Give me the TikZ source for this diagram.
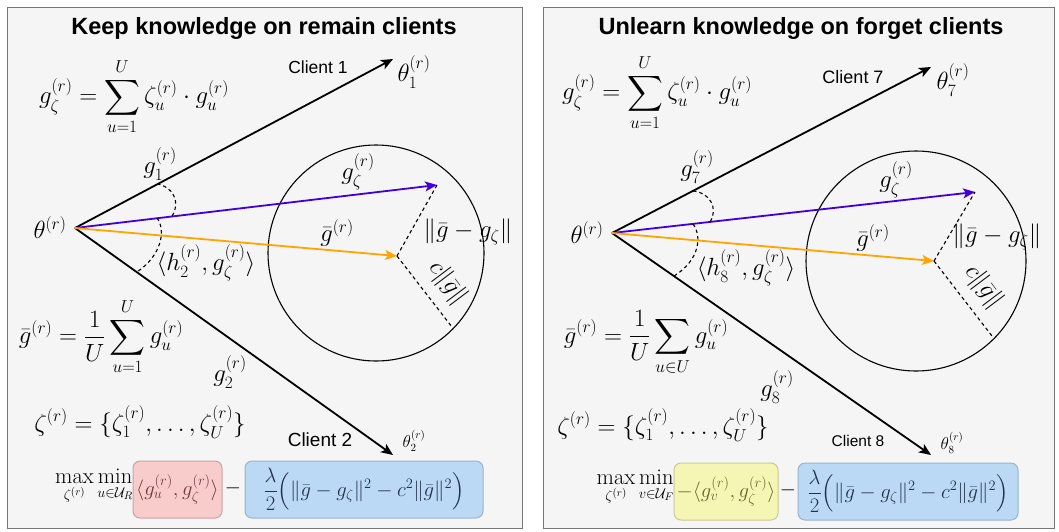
\documentclass[tikz,border=0pt]{standalone}
\usepackage{amsmath}
\usepackage{fontspec}
\newfontfamily\arialfont{Liberation Sans}
\usetikzlibrary{arrows.meta}
\definecolor{panelfill}{HTML}{F5F5F5}
\definecolor{panelline}{HTML}{777777}
\definecolor{bluearrow}{HTML}{3F00DB}
\definecolor{orangearrow}{HTML}{FFA500}
\definecolor{redfill}{HTML}{F8C8C6}
\definecolor{redline}{HTML}{C9A3A1}
\definecolor{yellowfill}{HTML}{F7F7AD}
\definecolor{yellowline}{HTML}{C8C89A}
\definecolor{bluefill}{HTML}{B5D6F5}
\definecolor{blueline}{HTML}{9AB4CC}
\definecolor{redtext}{HTML}{6E3A3A}
\definecolor{yellowtext}{HTML}{66662F}
\definecolor{bluetext}{HTML}{22324A}
\tikzset{
  panel/.style={draw=panelline, fill=panelfill, line width=1pt},
  title/.style={font=\arialfont\bfseries\fontsize{23.5}{28}\selectfont},
  client/.style={font=\arialfont\fontsize{17.5}{20}\selectfont},
  bigmath/.style={font=\fontsize{23}{27}\selectfont, inner sep=0pt},
  lab/.style={font=\fontsize{25}{29}\selectfont, inner sep=0pt},
  smalllab/.style={font=\fontsize{16}{19}\selectfont, inner sep=0pt},
  vec/.style={line width=1.8pt, -{Stealth[length=12pt,width=10pt,inset=3pt]}},
  ring/.style={line width=1.1pt},
  dashln/.style={line width=1.1pt, dash pattern=on 3.5pt off 3pt},
  boxbase/.style={rounded corners=7pt, line width=1pt, fill opacity=0.9, text opacity=1, inner sep=0pt, font=\fontsize{22}{26}\selectfont},
  redbox/.style={boxbase, draw=redline, fill=redfill, text=redtext},
  yellowbox/.style={boxbase, draw=yellowline, fill=yellowfill, text=yellowtext},
  bluebox/.style={boxbase, draw=blueline, fill=bluefill, text=bluetext},
  eqtext/.style={font=\fontsize{22.5}{26}\selectfont, inner sep=0pt}
}
\begin{document}
\begin{tikzpicture}[x=1pt,y=-1pt]
\useasboundingbox (0,0) rectangle (1059,531);
\fill[white] (0,0) rectangle (1059,531);
% ---------------- LEFT PANEL ----------------
\draw[panel] (7,7) rectangle (522,528);
\node[title] (t1) at (264,28) {Keep knowledge on remain clients};

\coordinate (o1) at (75,228);
\coordinate (c1) at (393,59);
\coordinate (c2) at (393,455);
\coordinate (bz1) at (437,185);
\coordinate (bo1) at (397,256);
\coordinate (rim1) at (452,327);

\draw[ring] (376,253) circle[radius=108];
\draw[vec] (o1) -- (c1);
\draw[vec] (o1) -- (c2);
\draw[vec, bluearrow] (o1) -- (bz1);
\draw[vec, orangearrow] (o1) -- (bo1);
\draw[dashln] (bo1) -- (bz1);
\draw[dashln] (bo1) -- (rim1);
\draw[dashln] (157,184) .. controls (173,186) and (181,203) .. (172,216);
\draw[dashln] (157,218) .. controls (166,230) and (162,255) .. (137,272);

\node[lab] (th1) at (50,228) {$\theta^{(r)}$};
\node[client] (cl1) at (318,67) {Client 1};
\node[lab] (th11) at (414,72) {$\theta_1^{(r)}$};
\node[client, font=\arialfont\fontsize{19}{22}\selectfont] (cl2) at (320,440) {Client 2};
\node[smalllab] (th12) at (414,441) {$\theta_2^{(r)}$};
\node[lab] (g11) at (160,164) {$g_1^{(r)}$};
\node[lab] (h2) at (206,263) {$\langle h_2^{(r)}, g_\zeta^{(r)}\rangle$};
\node[lab] (g21) at (230,372) {$g_2^{(r)}$};
\node[lab] (gz1) at (358,172) {$g_\zeta^{(r)}$};
\node[lab] (gb1) at (337,233) {$\bar g^{(r)}$};
\node[lab] (d1) at (468,232) {$\|\bar g - g_\zeta\|$};
\node[lab, rotate=-53] (cn1) at (448,283) {$c\|\bar g\|$};

\node[bigmath] (f11) at (134,97) {$\displaystyle g_\zeta^{(r)} = \sum_{u=1}^{U} \zeta_u^{(r)}\cdot g_u^{(r)}$};
\node[bigmath] (f12) at (101,337) {$\displaystyle \bar g^{(r)} = \frac{1}{U}\sum_{u=1}^{U} g_u^{(r)}$};
\node[bigmath] (f13) at (140,422) {$\displaystyle \zeta^{(r)} = \{\zeta_1^{(r)},\ldots,\zeta_U^{(r)}\}$};

\node[eqtext, anchor=east] (mm1) at (133,487) {$\displaystyle\max_{\zeta^{(r)}}\min_{u\in\mathcal{U}_R}$};
\node[redbox, minimum width=89pt, minimum height=57pt] (rb1) at (177.5,489.5) {$\langle g_u^{(r)}, g_\zeta^{(r)}\rangle$};
\node[eqtext] (mi1) at (233,488) {$-$};
\node[bluebox, minimum width=238pt, minimum height=57pt] (bb1) at (364,489.5) {$\displaystyle\frac{\lambda}{2}\Big(\|\bar g - g_\zeta\|^2 - c^2\|\bar g\|^2\Big)$};

% ---------------- RIGHT PANEL ----------------
\draw[panel] (543,7) rectangle (1054,528);
\node[title] (t2) at (801,28) {Unlearn knowledge on forget clients};

\coordinate (o2) at (612,233);
\coordinate (c7) at (931,67);
\coordinate (c8) at (931,455);
\coordinate (bz2) at (975,192);
\coordinate (bo2) at (934,261);
\coordinate (rim2) at (992,336);

\draw[ring] (916,261) circle[radius=110];
\draw[vec] (o2) -- (c7);
\draw[vec] (o2) -- (c8);
\draw[vec, bluearrow] (o2) -- (bz2);
\draw[vec, orangearrow] (o2) -- (bo2);
\draw[dashln] (bo2) -- (bz2);
\draw[dashln] (bo2) -- (rim2);
\draw[dashln] (693,191) .. controls (709,192) and (719,208) .. (710,222);
\draw[dashln] (693,224) .. controls (702,236) and (700,260) .. (674,276);

\node[lab] (th2) at (587,233) {$\theta^{(r)}$};
\node[client, font=\arialfont\fontsize{18}{21}\selectfont] (cl7) at (853,77) {Client 7};
\node[lab] (th27) at (953,80) {$\theta_7^{(r)}$};
\node[client, font=\arialfont\fontsize{15.5}{18}\selectfont] (cl8) at (858,441) {Client 8};
\node[smalllab] (th28) at (952,443) {$\theta_8^{(r)}$};
\node[lab] (g27) at (697,167) {$g_7^{(r)}$};
\node[lab] (h8) at (746,268) {$\langle h_8^{(r)}, g_\zeta^{(r)}\rangle$};
\node[lab] (g28) at (777,387) {$g_8^{(r)}$};
\node[lab] (gz2) at (896,180) {$g_\zeta^{(r)}$};
\node[lab] (gb2) at (873,238) {$\bar g^{(r)}$};
\node[lab] (d2) at (997,237) {$\|\bar g - g_\zeta\|$};
\node[lab, rotate=-53] (cn2) at (984,287) {$c\|\bar g\|$};

\node[bigmath] (f21) at (657,93) {$\displaystyle g_\zeta^{(r)} = \sum_{u=1}^{U} \zeta_u^{(r)}\cdot g_u^{(r)}$};
\node[bigmath] (f22) at (646,343) {$\displaystyle \bar g^{(r)} = \frac{1}{U}\sum_{u\in U} g_u^{(r)}$};
\node[bigmath] (f23) at (663,425) {$\displaystyle \zeta^{(r)} = \{\zeta_1^{(r)},\ldots,\zeta_U^{(r)}\}$};

\node[eqtext, anchor=east] (mm2) at (674,488) {$\displaystyle\max_{\zeta^{(r)}}\min_{v\in\mathcal{U}_F}$};
\node[yellowbox, minimum width=104pt, minimum height=57pt] (yb2) at (726,491.5) {$-\langle g_v^{(r)}, g_\zeta^{(r)}\rangle$};
\node[eqtext] (mi2) at (788,490) {$-$};
\node[bluebox, minimum width=220pt, minimum height=57pt] (bb2) at (908,491.5) {$\displaystyle\frac{\lambda}{2}\Big(\|\bar g - g_\zeta\|^2 - c^2\|\bar g\|^2\Big)$};
\end{tikzpicture}
\end{document}
